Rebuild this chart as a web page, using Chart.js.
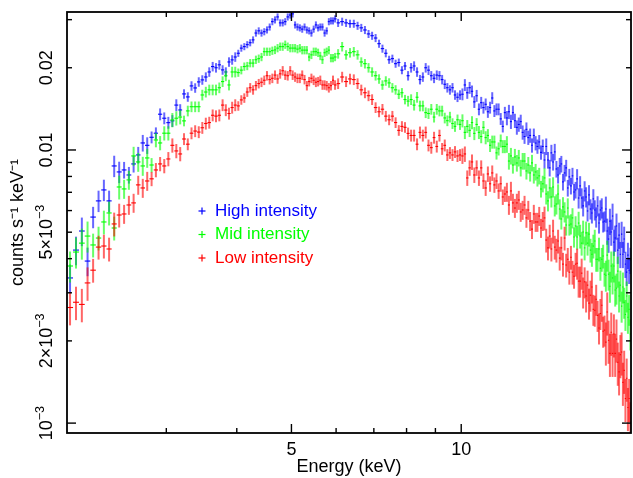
<!DOCTYPE html>
<html>
<head>
<meta charset="utf-8">
<script src="https://cdn.jsdelivr.net/npm/chart.js@4.4.1/dist/chart.umd.min.js"></script>
<style>
  html, body { margin: 0; padding: 0; background: #fff; }
  #wrap { width: 633px; height: 478px; }
</style>
</head>
<body>
<div id="wrap"><canvas id="spec" width="633" height="478"></canvas></div>
<script>
// bin centres in keV (0.05 keV bins below 6 keV, 0.1 keV above)
var energy = [
  2.025,2.075,2.125,2.175,2.225,2.275,2.325,2.375,2.425,2.475,
  2.525,2.575,2.625,2.675,2.725,2.775,2.825,2.875,2.925,2.975,
  3.025,3.075,3.125,3.175,3.225,3.275,3.325,3.375,3.425,3.475,
  3.525,3.575,3.625,3.675,3.725,3.775,3.825,3.875,3.925,3.975,
  4.025,4.075,4.125,4.175,4.225,4.275,4.325,4.375,4.425,4.475,
  4.525,4.575,4.625,4.675,4.725,4.775,4.825,4.875,4.925,4.975,
  5.025,5.075,5.125,5.175,5.225,5.275,5.325,5.375,5.425,5.475,
  5.525,5.575,5.625,5.675,5.725,5.775,5.825,5.875,5.925,5.975,
  6.05,6.15,6.25,6.35,6.45,6.55,6.65,6.75,6.85,6.95,
  7.05,7.15,7.25,7.35,7.45,7.55,7.65,7.75,7.85,7.95,
  8.05,8.15,8.25,8.35,8.45,8.55,8.65,8.75,8.85,8.95,
  9.05,9.15,9.25,9.35,9.45,9.55,9.65,9.75,9.85,9.95,
  10.05,10.15,10.25,10.35,10.45,10.55,10.65,10.75,10.85,10.95,
  11.05,11.15,11.25,11.35,11.45,11.55,11.65,11.75,11.85,11.95,
  12.05,12.15,12.25,12.35,12.45,12.55,12.65,12.75,12.85,12.95,
  13.05,13.15,13.25,13.35,13.45,13.55,13.65,13.75,13.85,13.95,
  14.05,14.15,14.25,14.35,14.45,14.55,14.65,14.75,14.85,14.95,
  15.05,15.15,15.25,15.35,15.45,15.55,15.65,15.75,15.85,15.95,
  16.05,16.15,16.25,16.35,16.45,16.55,16.65,16.75,16.85,16.95,
  17.05,17.15,17.25,17.35,17.45,17.55,17.65,17.75,17.85,17.95,
  18.05,18.15,18.25,18.35,18.45,18.55,18.65,18.75,18.85,18.95,
  19.05,19.15,19.25,19.35,19.45,19.55,19.65,19.75,19.85,19.95
];

// counts s-1 keV-1
var highRate = [
  0.00340,0.00430,0.00505,0.00392,0.00568,0.00651,0.00714,0.00651,0.00874,0.00831,
  0.00845,0.00810,0.00889,0.00959,0.01061,0.01040,0.01113,0.01152,0.01352,0.01307,
  0.01259,0.01278,0.0146,0.01401,0.01604,0.01564,0.01716,0.01687,0.01775,0.01805,
  0.0185,0.0193,0.0202,0.0200,0.0205,0.01964,0.0193,0.0210,0.02137,0.0219,
  0.0226,0.0236,0.0239,0.0243,0.0247,0.0253,0.0268,0.0273,0.0268,0.0271,
  0.02752,0.0282,0.0295,0.02995,0.0307,0.0292,0.0292,0.0295,0.0307,0.0312,
  0.0315,0.0287,0.0282,0.0280,0.0277,0.0282,0.0275,0.0273,0.0268,0.0277,
  0.0287,0.0280,0.0282,0.0282,0.0268,0.0273,0.0295,0.0297,0.0297,0.0302,
  0.0292,0.0295,0.0292,0.0290,0.0290,0.0285,0.0280,0.0275,0.0266,0.0262,
  0.0257,0.0245,0.0235,0.0226,0.0214,0.0216,0.0207,0.0209,0.0196,0.0203,
  0.0187,0.0200,0.0203,0.0193,0.0181,0.0185,0.0200,0.0196,0.0187,0.0183,
  0.0188,0.0187,0.0181,0.0174,0.0169,0.0166,0.0169,0.0159,0.0156,0.0159,
  0.0160,0.0173,0.0162,0.0169,0.0164,0.0150,0.0158,0.0141,0.0149,0.0143,
  0.0147,0.0138,0.0143,0.0155,0.0139,0.0141,0.0141,0.0130,0.0122,0.0137,
  0.0131,0.0138,0.0127,0.0137,0.0128,0.0121,0.0124,0.0127,0.0116,0.0112,
  0.0119,0.0111,0.0113,0.0104,0.0113,0.0106,0.0103,0.0107,0.0098,0.0103,
  0.00919,0.0103,0.00919,0.0086,0.00976,0.00904,0.00984,0.00852,0.0081,0.00874,
  0.00889,0.00764,0.00824,0.0086,0.00726,0.00797,0.00739,0.00804,0.00702,0.00714,
  0.00784,0.00667,0.00739,0.00667,0.00624,0.00708,0.00673,0.00598,0.00685,0.00608,
  0.00588,0.00662,0.00603,0.00568,0.00624,0.0054,0.00603,0.00613,0.00545,0.00549,
  0.00608,0.00505,0.00472,0.00549,0.00501,0.00573,0.0046,0.00476,0.00527,0.0043,
  0.00488,0.00415,0.00492,0.00415,0.00472,0.00382,0.00357,0.00412,0.00363,0.00395
];
var midRate = [
  0.00376,0.00423,0.00456,0.00484,0.00449,0.00476,0.00545,0.00588,0.00518,0.00732,
  0.00720,0.00777,0.00951,0.00904,0.00874,0.00935,0.00881,0.01088,0.01061,0.01152,
  0.01152,0.01288,0.01307,0.0132,0.01278,0.0139,0.0144,0.0144,0.0144,0.0159,
  0.0163,0.0166,0.0166,0.0166,0.0169,0.0178,0.0187,0.0173,0.0193,0.0193,
  0.0192,0.0196,0.0202,0.0203,0.0208,0.0208,0.0214,0.0216,0.0219,0.0229,
  0.0229,0.0229,0.0231,0.02325,0.0236,0.0239,0.0239,0.0243,0.0239,0.0236,
  0.0236,0.0236,0.0234,0.0236,0.0232,0.0232,0.0232,0.0219,0.0223,0.0229,
  0.0229,0.0227,0.0221,0.0214,0.0227,0.0229,0.0232,0.0217,0.0217,0.0219,
  0.0225,0.0239,0.0223,0.0227,0.0229,0.0223,0.0210,0.0207,0.0200,0.0193,
  0.0187,0.0182,0.0173,0.0179,0.0176,0.0169,0.0166,0.0160,0.0162,0.0153,
  0.0151,0.0153,0.0146,0.0156,0.0145,0.0145,0.0137,0.0136,0.0141,0.0132,
  0.0141,0.0139,0.0139,0.0131,0.0128,0.0132,0.0125,0.0122,0.0129,0.0124,
  0.0128,0.0116,0.0122,0.0118,0.0126,0.0115,0.0124,0.0116,0.0112,0.0121,
  0.0111,0.0113,0.0104,0.0107,0.0107,0.00976,0.0101,0.0108,0.0103,0.0103,
  0.0105,0.00911,0.00951,0.00881,0.00943,0.00896,0.00935,0.0086,0.00911,0.00911,
  0.00838,0.00881,0.00824,0.00897,0.0081,0.00831,0.0079,0.00804,0.0072,0.00752,
  0.0079,0.0069,0.00651,0.00726,0.00673,0.00732,0.00624,0.00634,0.0069,0.00608,
  0.00559,0.00619,0.00593,0.00531,0.00613,0.00531,0.00536,0.00564,0.0048,0.00527,
  0.0048,0.0054,0.00484,0.00456,0.00501,0.00438,0.00497,0.00456,0.00492,0.0043,
  0.00415,0.00445,0.00464,0.00398,0.00398,0.00434,0.00369,0.00398,0.00409,0.00351,
  0.00348,0.00412,0.00351,0.00317,0.00376,0.0034,0.00376,0.00307,0.00312,0.0036,
  0.00292,0.0032,0.00268,0.00315,0.00277,0.0025,0.00292,0.00244,0.00261,0.00212
];
var lowRate = [
  0.00265,0.00277,0.00272,0.00326,0.00363,0.00441,0.00445,0.00434,0.00536,0.00578,
  0.00583,0.00629,0.0064,0.00745,0.00726,0.0077,0.00784,0.00845,0.00889,0.00874,
  0.00927,0.0104,0.00992,0.00967,0.01097,0.0105,0.01152,0.01173,0.01163,0.01206,
  0.0125,0.0126,0.0134,0.0133,0.0134,0.0146,0.0140,0.0136,0.0143,0.0146,
  0.0145,0.01525,0.0155,0.0163,0.0169,0.0166,0.0172,0.0175,0.0177,0.0180,
  0.0187,0.0181,0.0183,0.0188,0.0182,0.0190,0.0195,0.0188,0.0187,0.0195,
  0.0188,0.0185,0.0183,0.0183,0.0188,0.0181,0.0172,0.0178,0.0183,0.0180,
  0.0177,0.0178,0.0180,0.0173,0.0173,0.0172,0.0169,0.0172,0.0180,0.0173,
  0.0175,0.0185,0.0178,0.0182,0.0181,0.0175,0.0166,0.0162,0.0158,0.0153,
  0.0143,0.0138,0.0141,0.0133,0.0129,0.0133,0.0126,0.0118,0.0122,0.0121,
  0.0115,0.0113,0.0113,0.0105,0.0116,0.0113,0.0116,0.0104,0.0102,0.0111,
  0.0103,0.0113,0.0101,0.0104,0.00959,0.00976,0.00959,0.00984,0.00951,0.00959,
  0.00951,0.00967,0.0079,0.0086,0.00904,0.0081,0.0086,0.0079,0.0086,0.0077,
  0.00726,0.00817,0.00752,0.00824,0.00745,0.0077,0.00708,0.00752,0.00673,0.0069,
  0.00702,0.00629,0.00708,0.0064,0.00613,0.0064,0.00656,0.00593,0.00603,0.00629,
  0.00564,0.00603,0.00549,0.00513,0.00583,0.00545,0.00545,0.00573,0.00518,0.00549,
  0.00564,0.00468,0.00438,0.00484,0.00434,0.00505,0.00441,0.0043,0.00464,0.00402,
  0.00438,0.00382,0.00476,0.00379,0.00398,0.00357,0.00405,0.00357,0.00345,0.00382,
  0.00385,0.00331,0.00331,0.00354,0.00302,0.00329,0.00292,0.0032,0.00275,0.00294,
  0.00315,0.00261,0.00259,0.00284,0.00248,0.00223,0.00252,0.0027,0.00217,0.00219,
  0.00198,0.00255,0.00201,0.0018,0.00215,0.0018,0.00212,0.0018,0.00203,0.00167,
  0.00154,0.00178,0.00182,0.00141,0.00156,0.00123,0.00146,0.00114,0.00123,0.00101
];

// fractional 1-sigma errors, one value per energy band
var errBandEdges = [2, 2.2, 2.5, 2.8, 3.2, 4, 5, 6, 8, 10, 12, 14, 16, 18, 20];
var errHigh = [0.12, 0.09, 0.07, 0.05, 0.04, 0.03, 0.03, 0.034, 0.04, 0.05, 0.06, 0.07, 0.085, 0.11];
var errMid  = [0.13, 0.10, 0.08, 0.06, 0.045, 0.035, 0.035, 0.04, 0.045, 0.055, 0.07, 0.085, 0.10, 0.13];
var errLow  = [0.14, 0.10, 0.08, 0.06, 0.05, 0.04, 0.04, 0.045, 0.05, 0.065, 0.08, 0.10, 0.13, 0.18];

var seriesNames = ['High intensity', 'Mid intensity', 'Low intensity'];
var seriesColors = ['#0000ff', '#00ff00', '#ff0000'];

// axes
var xTickLabels = [5, 10];
var xTickText = ['5', '10'];
var xMinorTicks = [3, 4, 6, 7, 8, 9];
var yMajorTicks = [0.001, 0.01];
var yMinorTicks = [0.002, 0.003, 0.004, 0.005, 0.006, 0.007, 0.008, 0.009, 0.02, 0.03];
var yLabelValues = [0.001, 0.002, 0.005, 0.01, 0.02];
var yLabelMain = ['10', '2\u00d710', '5\u00d710', '0.01', '0.02'];
var yLabelSup = ['\u22123', '\u22123', '\u22123', '', ''];

var FONT = "'Liberation Sans', Arial, Helvetica, sans-serif";

function bandError(table, e) {
  for (var k = 0; k < table.length; k++) {
    if (e < errBandEdges[k + 1]) return table[k];
  }
  return table[table.length - 1];
}

function points(rates) {
  return energy.map(function (e, i) { return { x: e, y: rates[i] }; });
}

var errorBarPlugin = {
  id: 'errorBars',
  afterDatasetsDraw: function (chart) {
    var ctx = chart.ctx, xs = chart.scales.x, ys = chart.scales.y, a = chart.chartArea;
    ctx.save();
    ctx.beginPath();
    ctx.rect(a.left, a.top, a.right - a.left, a.bottom - a.top);
    ctx.clip();
    chart.data.datasets.forEach(function (ds) {
      ctx.strokeStyle = ds.borderColor;
      var n = energy.length;
      for (var i = 0; i < n; i++) {
        var e = energy[i];
        var lo = i > 0 ? (energy[i - 1] + e) / 2 : e - (energy[1] - e) / 2;
        var hi = i < n - 1 ? (e + energy[i + 1]) / 2 : e + (e - energy[i - 1]) / 2;
        var v = ds.data[i].y;
        var f = bandError(ds.errTable, e);
        var px = xs.getPixelForValue(e), py = ys.getPixelForValue(v);
        ctx.globalAlpha = 0.6;
        ctx.lineWidth = 2;
        ctx.beginPath();
        ctx.moveTo(px, ys.getPixelForValue(v * (1 - f)));
        ctx.lineTo(px, ys.getPixelForValue(v * (1 + f)));
        ctx.stroke();
        ctx.globalAlpha = 1;
        ctx.lineWidth = 1.1;
        ctx.beginPath();
        ctx.moveTo(xs.getPixelForValue(lo), py);
        ctx.lineTo(xs.getPixelForValue(hi), py);
        ctx.stroke();
      }
    });
    ctx.restore();
  }
};

var framePlugin = {
  id: 'frame',
  afterDraw: function (chart) {
    var ctx = chart.ctx, xs = chart.scales.x, ys = chart.scales.y, a = chart.chartArea;
    ctx.save();
    ctx.strokeStyle = '#000';
    ctx.lineWidth = 1.8;
    ctx.strokeRect(a.left, a.top, a.right - a.left, a.bottom - a.top);

    function seg(x1, y1, x2, y2) {
      ctx.beginPath(); ctx.moveTo(x1, y1); ctx.lineTo(x2, y2); ctx.stroke();
    }
    ctx.lineWidth = 1.4;
    xTickLabels.forEach(function (v) {
      var p = xs.getPixelForValue(v);
      seg(p, a.bottom, p, a.bottom - 9); seg(p, a.top, p, a.top + 9);
    });
    xMinorTicks.forEach(function (v) {
      var p = xs.getPixelForValue(v);
      seg(p, a.bottom, p, a.bottom - 5); seg(p, a.top, p, a.top + 5);
    });
    yMajorTicks.forEach(function (v) {
      var p = ys.getPixelForValue(v);
      seg(a.left, p, a.left + 9, p); seg(a.right, p, a.right - 9, p);
    });
    yMinorTicks.forEach(function (v) {
      var p = ys.getPixelForValue(v);
      seg(a.left, p, a.left + 5, p); seg(a.right, p, a.right - 5, p);
    });

    // rotated y tick labels with superscript exponents
    ctx.fillStyle = '#000';
    ctx.textBaseline = 'middle';
    ctx.textAlign = 'left';
    yLabelValues.forEach(function (v, k) {
      var p = ys.getPixelForValue(v);
      ctx.save();
      ctx.translate(a.left - 20, p);
      ctx.rotate(-Math.PI / 2);
      ctx.font = '18px ' + FONT;
      var wm = ctx.measureText(yLabelMain[k]).width;
      ctx.font = '12.5px ' + FONT;
      var wsup = yLabelSup[k] ? ctx.measureText(yLabelSup[k]).width : 0;
      var x0 = -(wm + wsup) / 2;
      ctx.font = '18px ' + FONT;
      ctx.fillText(yLabelMain[k], x0, 0);
      if (yLabelSup[k]) {
        ctx.font = '12.5px ' + FONT;
        ctx.fillText(yLabelSup[k], x0 + wm, -6);
      }
      ctx.restore();
    });

    // legend inside the plot
    chart.data.datasets.forEach(function (ds, k) {
      var cy = a.top + 199 + k * 23.5;
      var cx = a.left + 135;
      ctx.strokeStyle = ds.borderColor;
      ctx.lineWidth = 1.2;
      seg(cx - 3.5, cy, cx + 3.5, cy);
      seg(cx, cy - 3.5, cx, cy + 3.5);
      ctx.fillStyle = ds.borderColor;
      ctx.font = '17px ' + FONT;
      ctx.textAlign = 'left';
      ctx.fillText(ds.label, a.left + 148, cy);
    });
    ctx.restore();
  }
};

var datasets = [highRate, midRate, lowRate].map(function (rates, k) {
  return {
    label: seriesNames[k],
    data: points(rates),
    borderColor: seriesColors[k],
    backgroundColor: seriesColors[k],
    errTable: [errHigh, errMid, errLow][k],
    pointRadius: 0,
    showLine: false
  };
});

var ctx = document.getElementById('spec').getContext('2d');
window.spectrum = new Chart(ctx, {
  type: 'scatter',
  data: { datasets: datasets },
  options: {
    responsive: false,
    animation: false,
    devicePixelRatio: 1,
    events: [],
    layout: { padding: { top: 12, right: 2, bottom: 0, left: 0 } },
    plugins: { legend: { display: false }, tooltip: { enabled: false } },
    scales: {
      x: {
        type: 'logarithmic',
        min: 2,
        max: 20,
        grid: { display: false, drawTicks: false },
        border: { display: false },
        afterBuildTicks: function (scale) {
          scale.ticks = xTickLabels.map(function (v) { return { value: v }; });
        },
        afterFit: function (scale) { scale.height = 45; },
        ticks: {
          autoSkip: false,
          maxRotation: 0,
          padding: 6,
          color: '#000',
          font: { family: FONT, size: 18, lineHeight: 1.2 },
          callback: function (value) { return xTickText[xTickLabels.indexOf(value)]; }
        },
        title: {
          display: true,
          text: 'Energy (keV)',
          color: '#000',
          font: { family: FONT, size: 18, lineHeight: 1.2 },
          padding: { top: 0, bottom: 0.2 }
        }
      },
      y: {
        type: 'logarithmic',
        min: 0.00092,
        max: 0.032,
        grid: { display: false, drawTicks: false },
        border: { display: false },
        ticks: { display: false },
        afterFit: function (scale) { scale.width = 67; },
        title: {
          display: true,
          text: 'counts s\u207b\u00b9 keV\u207b\u00b9',
          color: '#000',
          font: { family: FONT, size: 18, lineHeight: 1.2 },
          padding: { top: 7.2, bottom: 38 }
        }
      }
    }
  },
  plugins: [errorBarPlugin, framePlugin]
});
</script>
</body>
</html>
